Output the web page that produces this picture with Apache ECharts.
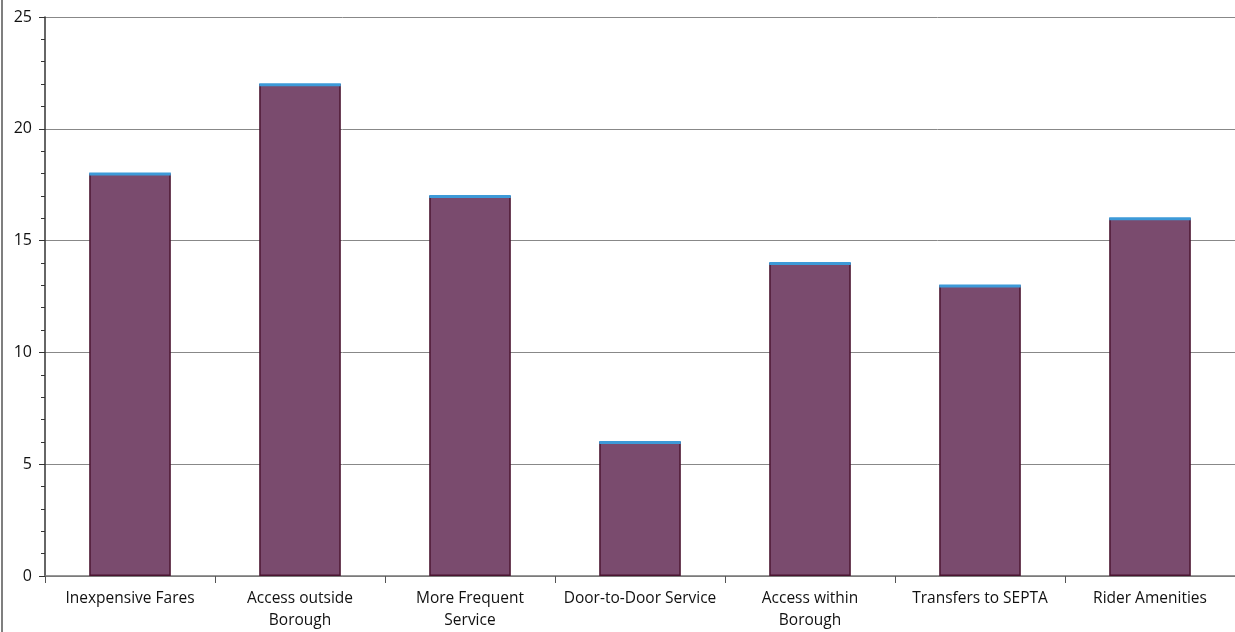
<!DOCTYPE html>
<html><head><meta charset="utf-8">
<script src="https://cdn.jsdelivr.net/npm/echarts@6/dist/echarts.min.js"></script>
<style>html,body{margin:0;padding:0;background:#fff}#c{width:1235px;height:632px}</style>
</head><body><div id="c"></div>
<script>
const categories = ['Inexpensive Fares','Access outside\nBorough','More Frequent\nService','Door-to-Door Service','Access within\nBorough','Transfers to SEPTA','Rider Amenities'];
const values = [18, 22, 17, 6, 14, 13, 16];
const yTicks = [0, 5, 10, 15, 20, 25];

const chart = echarts.init(document.getElementById('c'));
chart.setOption({
  animation: false,
  backgroundColor: '#ffffff',
  grid: {left: 45, right: 0, top: 17, bottom: 55},
  graphic: [{type: 'line', shape: {x1: 2, y1: 0, x2: 2, y2: 632}, style: {stroke: '#555', lineWidth: 1.5}}],
  xAxis: {
    type: 'category', data: categories,
    axisLine: {lineStyle: {color: '#777', width: 1.5}},
    axisTick: {show: true, length: 7, lineStyle: {color: '#555'}},
    axisLabel: {interval: 0, color: '#111', fontSize: 15.5, fontFamily: 'Open Sans, sans-serif', margin: 12, lineHeight: 22}
  },
  yAxis: {
    type: 'value', min: yTicks[0], max: yTicks[yTicks.length-1], interval: 5,
    axisLine: {show: true, lineStyle: {color: '#333', width: 1.5}},
    axisTick: {show: true, length: 6, lineStyle: {color: '#333'}},
    minorTick: {show: true, splitNumber: 5, length: 4, lineStyle: {color: '#333'}},
    splitLine: {lineStyle: {color: '#888', width: 1}},
    axisLabel: {color: '#111', fontSize: 16, fontFamily: 'Open Sans, sans-serif', margin: 13}
  },
  series: [{
    type: 'bar', data: values, barWidth: '48%',
    itemStyle: {color: '#7a4b6e', borderColor: '#4a1530', borderWidth: 1.5}
  }, {
    type: 'pictorialBar', data: values, symbol: 'rect', symbolPosition: 'end',
    barWidth: '48%', symbolSize: ['100%', 3], symbolOffset: [0, '-30%'], barGap: '-100%', z: 3,
    itemStyle: {color: '#3d9ad8'}
  }]
});
</script></body></html>
